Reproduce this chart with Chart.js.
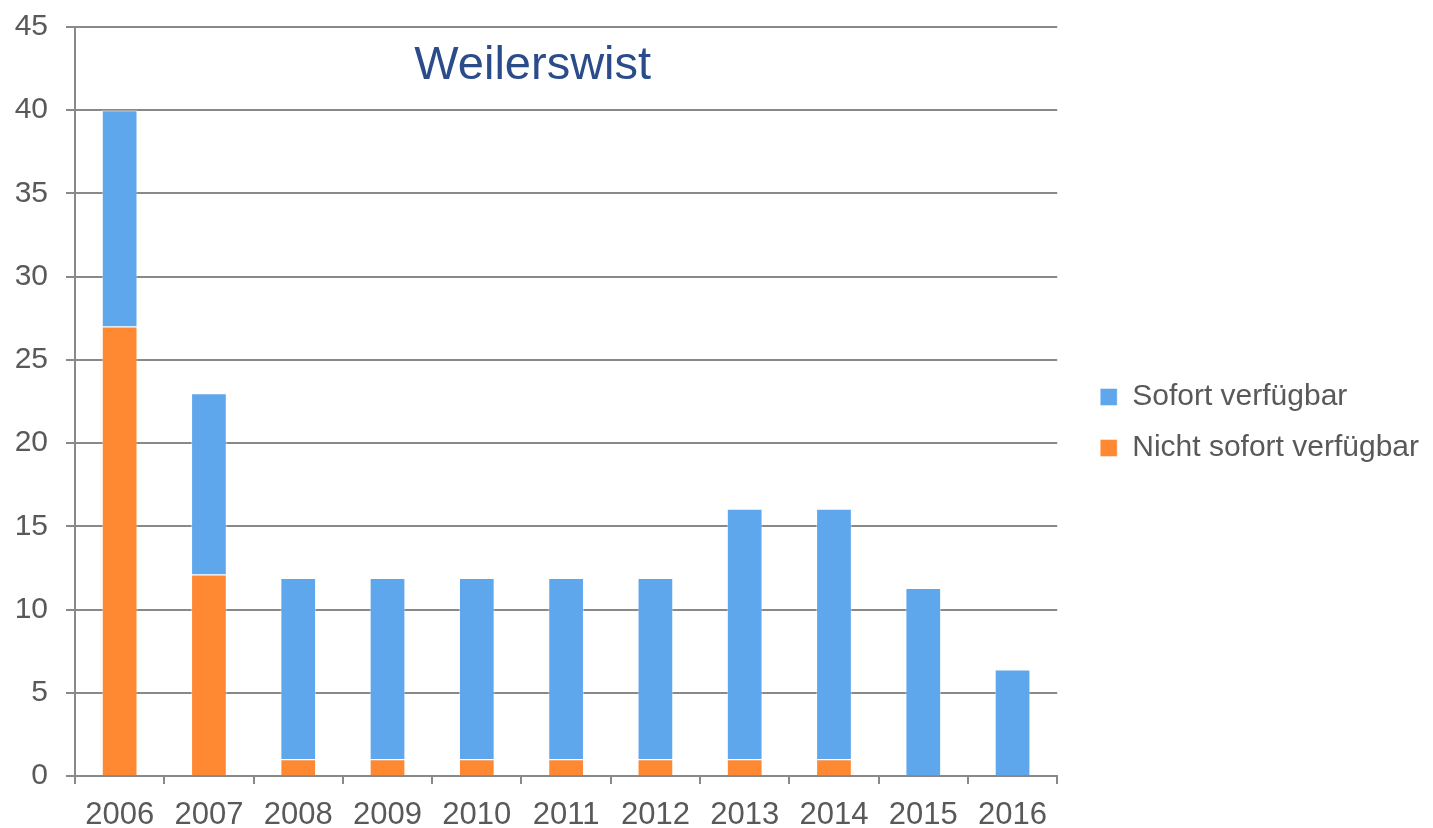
<!DOCTYPE html>
<html>
<head>
<meta charset="utf-8">
<script src="https://cdn.jsdelivr.net/npm/chart.js@4/dist/chart.umd.min.js"></script>
<style>
  html, body { margin: 0; padding: 0; background: #fff; }
  #wrap { width: 1433px; height: 828px; }
</style>
</head>
<body>
<div id="wrap"><canvas id="chart"></canvas></div>
<script>
const years = ['2006', '2007', '2008', '2009', '2010', '2011', '2012', '2013', '2014', '2015', '2016'];
const nichtSofort = [27, 12.1, 1, 1, 1, 1, 1, 1, 1, 0, 0];
const sofort = [13, 10.9, 10.9, 10.9, 10.9, 10.9, 10.9, 15.05, 15.05, 11.3, 6.4];
const yTicks = [0, 5, 10, 15, 20, 25, 30, 35, 40, 45];

const textColor = '#595959';
const lineColor = '#898989';
const fontFamily = '"Liberation Sans", Arial, sans-serif';

// title sits inside the plot area, a bit left of centre
const innerTitle = {
  id: 'innerTitle',
  afterDraw(chart) {
    const { ctx, chartArea } = chart;
    ctx.save();
    ctx.font = '47px ' + fontFamily;
    ctx.fillStyle = '#2B4C8A';
    ctx.textAlign = 'center';
    ctx.textBaseline = 'middle';
    ctx.fillText('Weilerswist', chartArea.left + (chartArea.right - chartArea.left) * 0.466, chartArea.top + 39);
    ctx.restore();
  }
};

new Chart(document.getElementById('chart'), {
  type: 'bar',
  data: {
    labels: years,
    datasets: [
      {
        label: 'Nicht sofort verfügbar',
        data: nichtSofort,
        backgroundColor: '#FF8833',
        borderColor: 'rgba(255,255,255,0.45)',
        borderWidth: 1
      },
      {
        label: 'Sofort verfügbar',
        data: sofort,
        backgroundColor: '#5FA7EC',
        borderColor: 'rgba(255,255,255,0.45)',
        borderWidth: 1
      }
    ]
  },
  options: {
    responsive: true,
    maintainAspectRatio: false,
    animation: false,
    layout: { padding: { top: 17, left: 0, right: 4, bottom: 0 } },
    datasets: { bar: { categoryPercentage: 0.8, barPercentage: 0.5 } },
    plugins: {
      legend: {
        position: 'right',
        reverse: true,
        maxWidth: 400,
        labels: {
          boxWidth: 17,
          boxHeight: 17,
          padding: 21,
          color: textColor,
          font: { family: fontFamily, size: 30 }
        }
      },
      tooltip: { enabled: false }
    },
    scales: {
      x: {
        stacked: true,
        afterFit: s => { s.height = 52; },
        grid: { offset: true, drawOnChartArea: false, color: lineColor, lineWidth: 2, tickLength: 8 },
        border: { color: lineColor, width: 2 },
        ticks: { color: textColor, font: { family: fontFamily, size: 31 }, padding: 13, maxRotation: 0 }
      },
      y: {
        stacked: true,
        min: 0,
        max: 45,
        afterFit: s => { s.width = 75; },
        afterBuildTicks: s => { s.ticks = yTicks.map(v => ({ value: v })); },
        grid: { color: lineColor, lineWidth: 2, tickLength: 9 },
        border: { color: lineColor, width: 2 },
        ticks: { color: textColor, font: { family: fontFamily, size: 30, lineHeight: 0.6 }, padding: 18 }
      },
      // empty spacer between plot and legend
      gap: {
        type: 'linear',
        position: 'right',
        afterFit: s => { s.width = 22; },
        grid: { display: false },
        border: { display: false },
        ticks: { display: false }
      }
    }
  },
  plugins: [innerTitle]
});
</script>
</body>
</html>
